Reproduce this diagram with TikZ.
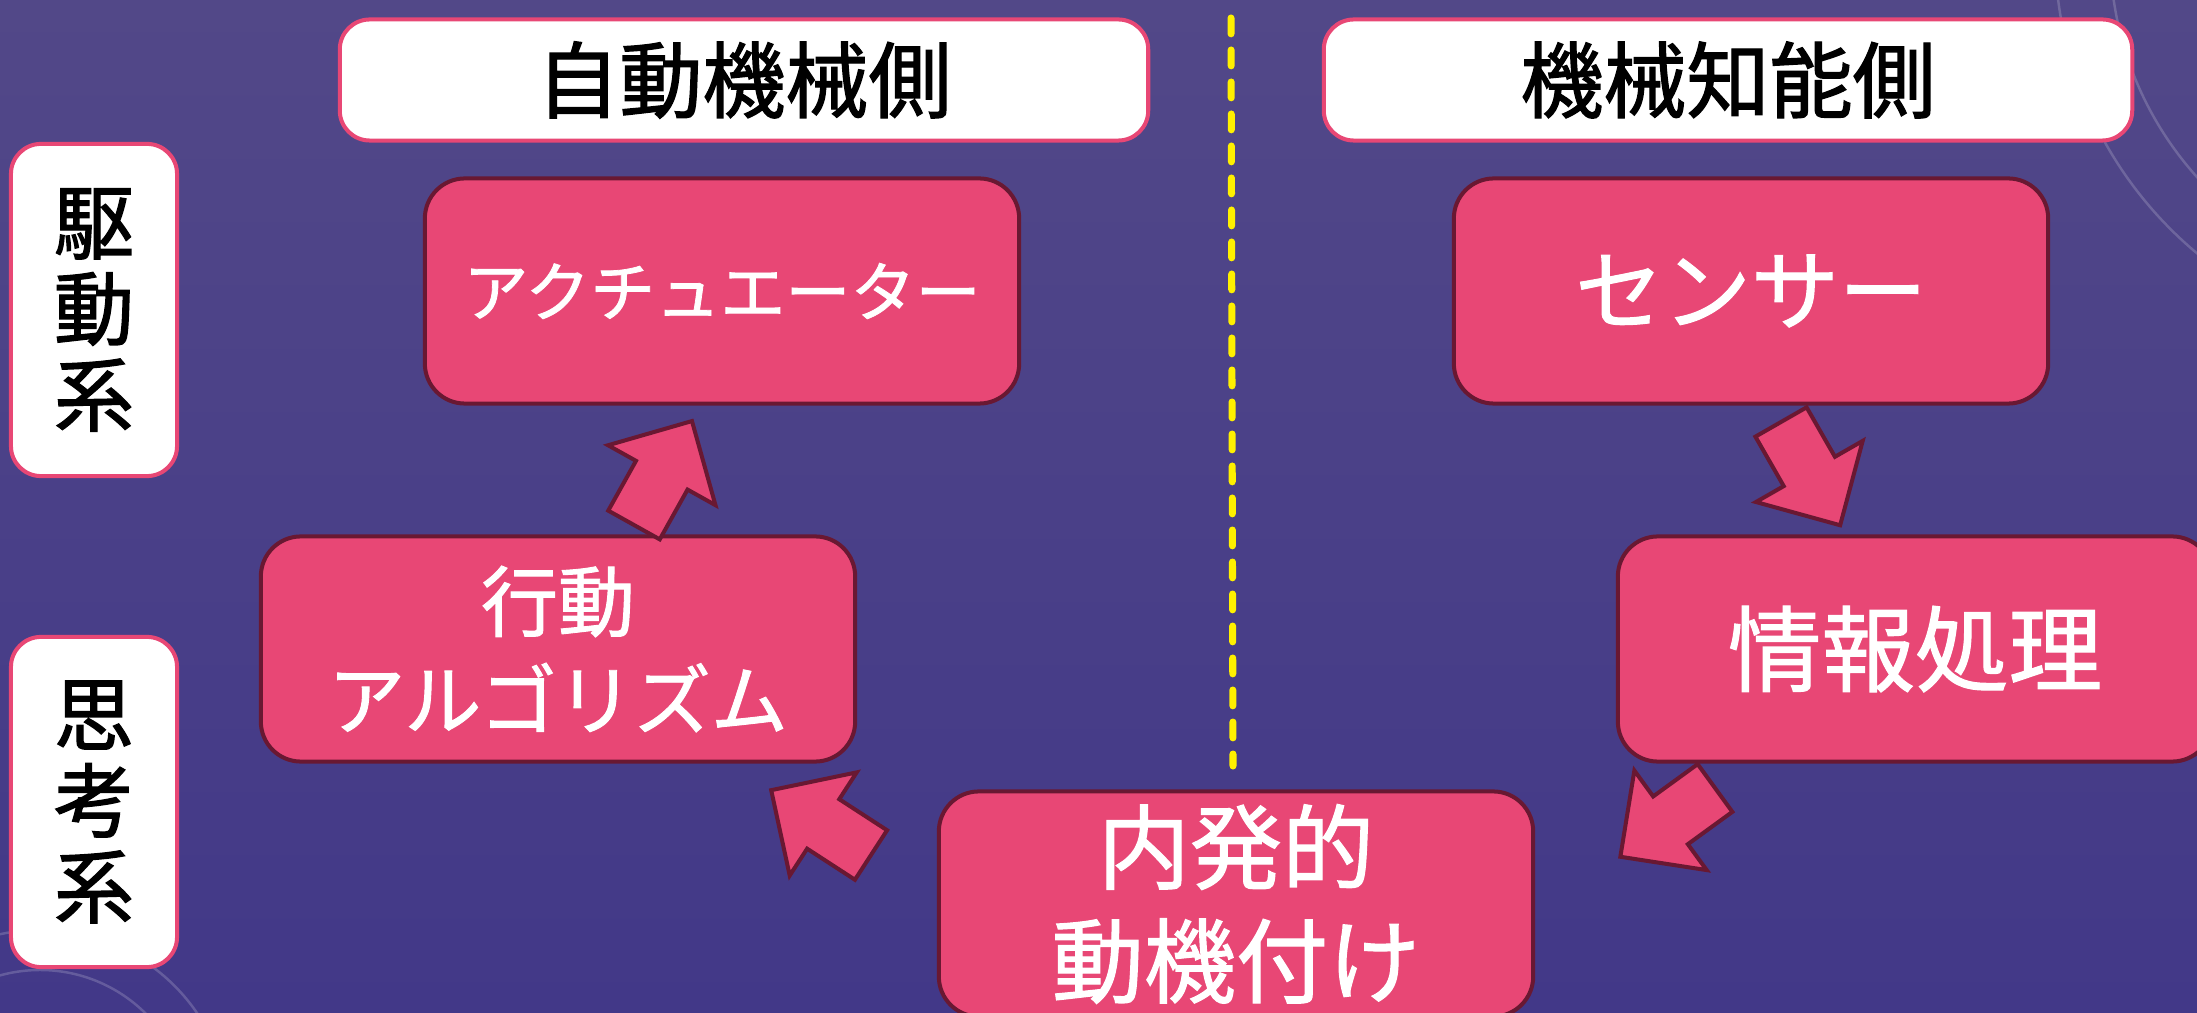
\documentclass[tikz,border=0pt]{standalone}
\usepackage{fontspec}
\newfontfamily\jp[FakeBold=1.2]{Noto Sans CJK JP}
\newfontfamily\jph[FakeBold=1.6]{Noto Sans CJK JP}
\definecolor{bgtop}{RGB}{82,72,136}
\definecolor{bgbot}{RGB}{66,56,136}
\definecolor{pinkf}{RGB}{232,71,117}
\definecolor{darkb}{RGB}{105,24,50}
\definecolor{dashy}{RGB}{255,240,0}
\newcommand{\blkarrow}[3]{%
  \draw[blk, shift={(#1)}, rotate=#2]
    (0,-29.5) -- (#3-62,-29.5) -- (#3-62,-61.5) -- (#3,0) --
    (#3-62,61.5) -- (#3-62,29.5) -- (0,29.5) -- cycle;}
\begin{document}
\begin{tikzpicture}[x=0.01cm,y=-0.01cm,
  pbox/.style={draw=darkb, line width=1.14pt, fill=pinkf, rounded corners=0.4cm,
    minimum width=5.94cm, minimum height=2.25cm, text=white, align=center, inner sep=0pt},
  wbox/.style={draw=pinkf, line width=1.14pt, fill=white, rounded corners=0.3cm,
    text=black, align=center, inner sep=0pt},
  blk/.style={draw=darkb, line width=1.14pt, fill=pinkf, line join=miter},
  faint/.style={draw=white, opacity=0.18, line width=0.7pt},
]
\useasboundingbox (0,0) rectangle (2197,1013);
\clip (0,0) rectangle (2197,1013);
\shade[top color=bgtop, bottom color=bgbot] (0,0) rectangle (2197,1013);
% faint background decoration
\draw[faint] (2450,-50) circle[radius=395];
\draw[faint] (2450,-50) circle[radius=340];
\draw[faint] (40,1120) circle[radius=150];
\draw[faint] (40,1120) circle[radius=190];

% headers
\node[wbox, minimum width=8.08cm, minimum height=1.21cm,
  font=\jph\fontsize{23.6pt}{28pt}\selectfont] (hl) at (744,80) {自動機械側};
\node[wbox, minimum width=8.08cm, minimum height=1.21cm,
  font=\jph\fontsize{23.6pt}{28pt}\selectfont] (hr) at (1728,80) {機械知能側};

% side labels
\node[wbox, minimum width=1.66cm, minimum height=3.32cm,
  font=\jph\fontsize{22.8pt}{24.5pt}\selectfont] (sd) at (94,310) {駆\\動\\系};
\node[wbox, minimum width=1.66cm, minimum height=3.30cm,
  font=\jph\fontsize{22.8pt}{24.5pt}\selectfont] (st) at (94,802) {思\\考\\系};

% dashed divider
\coordinate (dtop) at (1231,18);
\coordinate (dbot) at (1233,766);
\draw[dashy, line width=2pt, line cap=round, dash pattern=on 4.5pt off 4.6pt] (dtop) -- (dbot);

% process boxes
\node[pbox, font=\jp\fontsize{18.5pt}{22pt}\selectfont] (act) at (722,291) {アクチュエーター};
\node[pbox, font=\jp\fontsize{25pt}{30pt}\selectfont] (sen) at (1751,291) {センサー};
\node[pbox, font=\jp\fontsize{21.9pt}{27.9pt}\selectfont] (alg) at (558,649) {行動\\アルゴリズム};
\node[pbox, font=\jp\fontsize{26.6pt}{30pt}\selectfont] (info) at (1915,649) {情報処理};
\node[pbox, font=\jp\fontsize{26.2pt}{32.4pt}\selectfont] (mot) at (1236,904) {内発的\\動機付け};

% block arrows (connectors)
\coordinate (a1) at (634,525);
\coordinate (a2) at (1781,422);
\coordinate (a3) at (1715,788);
\coordinate (a4) at (871,855);
\blkarrow{a1}{60.85}{119}
\blkarrow{a2}{-60.2}{119}
\blkarrow{a3}{-144}{117}
\blkarrow{a4}{147}{119}
\end{tikzpicture}
\end{document}
